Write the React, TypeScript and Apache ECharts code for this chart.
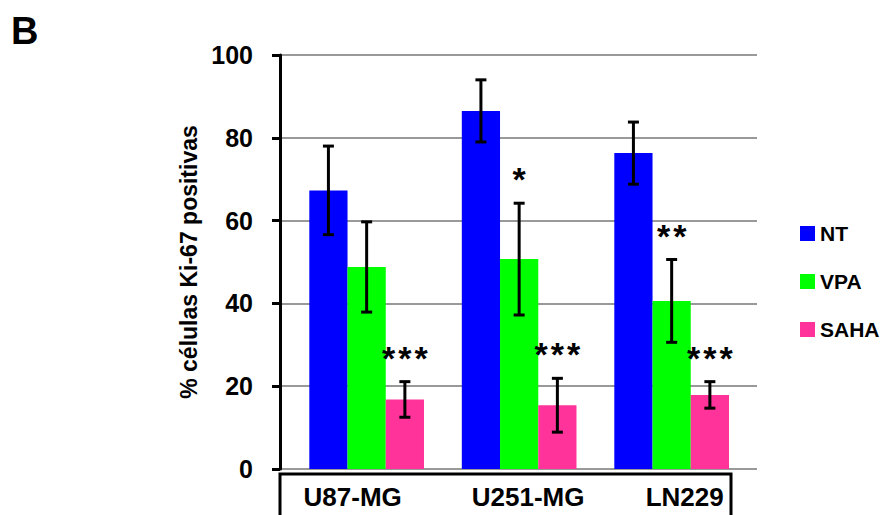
import React, { useEffect, useRef } from "react";
import * as echarts from "echarts";

const categories = ["U87-MG", "U251-MG", "LN229"];
const seriesNames = ["NT", "VPA", "SAHA"];
const ntValues = [67.3, 86.5, 76.3];
const vpaValues = [48.8, 50.7, 40.6];
const sahaValues = [16.8, 15.4, 17.9];
const ntErrors = [10.7, 7.5, 7.5];
const vpaErrors = [10.9, 13.5, 10.0];
const sahaErrors = [4.3, 6.5, 3.2];
const ntStars = ["", "", ""];
const vpaStars = ["", "*", "**"];
const sahaStars = ["***", "***", "***"];
const yTicks = [0, 20, 40, 60, 80, 100];
const colors = ["#0000FF", "#00FF00", "#FF3399"];
const labelShift = [-14, 9, 13];

const FONT = "Arial, 'Liberation Sans', sans-serif";
const GAP = 0.248;
const STAR_PITCH = 16.3;

export default function App() {
  const ref = useRef<HTMLDivElement>(null);
  useEffect(() => {
    if (!ref.current) return;
    const chart = echarts.init(ref.current, null, { renderer: "svg" });
    const values = [ntValues, vpaValues, sahaValues];
    const errors = [ntErrors, vpaErrors, sahaErrors];
    const stars = [ntStars, vpaStars, sahaStars];

    const barSeries = seriesNames.map((name, si) => ({
      name,
      type: "bar",
      xAxisIndex: 0,
      yAxisIndex: 0,
      data: values[si],
      barGap: "0%",
      barCategoryGap: (GAP * 100).toFixed(1) + "%",
      itemStyle: { color: colors[si] },
      z: 2,
    }));

    const errSeries = seriesNames.map((name, si) => ({
      name: name + "_err",
      type: "custom",
      xAxisIndex: 0,
      yAxisIndex: 0,
      z: 5,
      data: categories.map((_, ci) => [ci, values[si][ci], errors[si][ci]]),
      renderItem: (params: any, api: any) => {
        const ci = api.value(0);
        const v = api.value(1);
        const e = api.value(2);
        const base = api.coord([ci, 0]);
        const catW = api.size([1, 0])[0];
        const bw = (catW * (1 - GAP)) / 3;
        const x = base[0] + (si - 1) * bw;
        const top = api.coord([ci, v + e])[1];
        const bot = api.coord([ci, v - e])[1];
        const cap = 5.5;
        const ls = { stroke: "#000", lineWidth: 3 };
        const children: any[] = [
          { type: "line", shape: { x1: x, y1: top, x2: x, y2: bot }, style: ls },
          { type: "line", shape: { x1: x - cap, y1: top, x2: x + cap, y2: top }, style: ls },
          { type: "line", shape: { x1: x - cap, y1: bot, x2: x + cap, y2: bot }, style: ls },
        ];
        const s = stars[si][ci];
        for (let k = 0; k < s.length; k++) {
          children.push({
            type: "text",
            style: {
              text: s[k],
              x: x + (k - (s.length - 1) / 2) * STAR_PITCH,
              y: top - 24,
              align: "center",
              verticalAlign: "middle",
              font: "bold 34px " + FONT,
              fill: "#000",
            },
          });
        }
        return { type: "group", children };
      },
    }));

    chart.setOption({
      animation: false,
      backgroundColor: "#fff",
      grid: [
        { left: 290.4, width: 457.5, top: 55, height: 414, containLabel: false },
        { left: 280, width: 477, top: 55, height: 414, containLabel: false },
      ],
      legend: {
        data: seriesNames,
        orient: "vertical",
        left: 800,
        top: 223,
        padding: 0,
        itemWidth: 15,
        itemHeight: 15,
        itemGap: 27,
        icon: "rect",
        textStyle: { fontSize: 21, fontWeight: "bold", color: "#000", fontFamily: FONT, lineHeight: 21 },
      },
      xAxis: [
        {
          type: "category",
          gridIndex: 0,
          data: categories,
          axisLine: { show: false },
          axisTick: { show: false },
          axisLabel: {
            margin: 15,
            interval: 0,
            formatter: (val: string, idx: number) => `{l${idx}|${val}}`,
            rich: {
              l0: { fontSize: 26, fontWeight: "bold", fontFamily: FONT, color: "#000", padding: [0, -2 * labelShift[0], 0, 0] },
              l1: { fontSize: 26, fontWeight: "bold", fontFamily: FONT, color: "#000", padding: [0, 0, 0, 2 * labelShift[1]] },
              l2: { fontSize: 26, fontWeight: "bold", fontFamily: FONT, color: "#000", padding: [0, 0, 0, 2 * labelShift[2]] },
            },
          },
        },
        { type: "value", gridIndex: 1, min: 0, max: 1, show: false },
      ],
      yAxis: [
        { type: "value", gridIndex: 0, min: 0, max: 100, interval: 20, show: false },
        {
          type: "value",
          gridIndex: 1,
          min: yTicks[0],
          max: yTicks[yTicks.length - 1],
          interval: 20,
          name: "% células Ki-67 positivas",
          nameLocation: "middle",
          nameGap: 78,
          nameTextStyle: { fontSize: 23, fontWeight: "bold", color: "#000", fontFamily: FONT },
          axisLine: { show: true, lineStyle: { color: "#000", width: 3 } },
          axisTick: { show: true, inside: false, length: 8, lineStyle: { color: "#000", width: 3 } },
          axisLabel: { margin: 27, fontSize: 25, fontWeight: "bold", color: "#000", fontFamily: FONT },
          splitLine: { show: true, lineStyle: { color: "#999", width: 2 } },
        },
      ],
      graphic: [
        {
          type: "text",
          left: 11,
          top: 12,
          style: { text: "B", font: "bold 38px " + FONT, fill: "#000" },
        },
        {
          type: "polyline",
          shape: { points: [[280, 520], [280, 474], [731, 474], [731, 520]] },
          style: { stroke: "#000", lineWidth: 3, fill: "none" },
        },
      ],
      series: [...barSeries, ...errSeries],
    });
    return () => chart.dispose();
  }, []);
  return (
    <div
      ref={ref}
      style={{ position: "fixed", left: 0, top: 0, width: 885, height: 515, background: "#fff" }}
    />
  );
}
